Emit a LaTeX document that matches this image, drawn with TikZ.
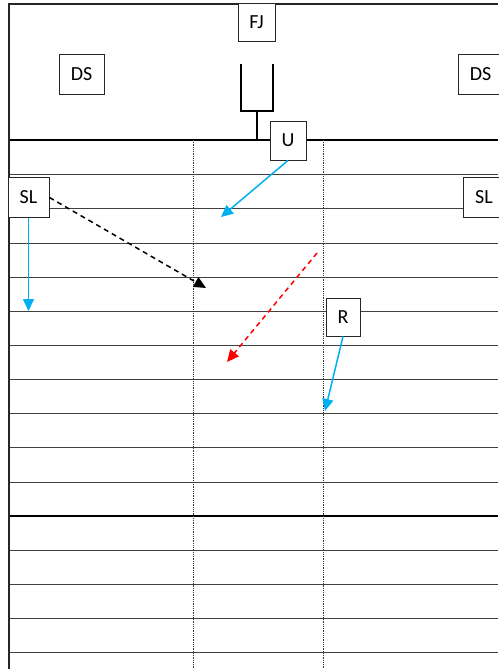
\documentclass[tikz,border=0pt]{standalone}
\usepackage{fontspec}
\setmainfont{Carlito}
\usetikzlibrary{arrows.meta}
\definecolor{skyblue}{RGB}{0,176,240}
\begin{document}
\begin{tikzpicture}[x=1pt,y=-1pt,
  lbl/.style={draw=black!85,line width=0.9pt,fill=white,inner sep=0pt,font=\fontsize{20}{24}\selectfont},
  gridline/.style={black!75,line width=0.9pt},
  heavy/.style={black,line width=2pt},
  dotv/.style={black!80,line width=0.8pt,dash pattern=on 1pt off 0.8pt},
  bluearrow/.style={skyblue,line width=1.5pt,-{Triangle[length=12pt,width=11pt]}},
  blackarrow/.style={black,line width=1.5pt,dash pattern=on 5pt off 4pt,-{Triangle[length=12pt,width=11pt]}},
  redarrow/.style={red,line width=1.5pt,dash pattern=on 5pt off 4pt,-{Triangle[length=12pt,width=11pt]}}]
\useasboundingbox (0,0) rectangle (498,671);
\fill[white] (0,0) rectangle (498,671);
% top frame
\draw[black!85,line width=1.3pt] (9,4) -- (498,4);
% horizontal grid lines
\foreach \y in {174,208,243,277,311,345,379,413,447,482,550,584,618,652}
  \draw[gridline] (9,\y) -- (498,\y);
\draw[heavy] (9,516) -- (498,516);
\draw[heavy] (9,140) -- (498,140);
% dotted vertical dividers
\draw[dotv] (193,140) -- (193,668);
\draw[dotv] (323,140) -- (323,668);
% left wall
\draw[black!85,line width=2pt] (9,3) -- (9,669);
% U-shaped holder
\draw[black,line width=1.5pt] (241,64) -- (241,111) -- (273,111) -- (273,64);
\draw[black,line width=1.5pt] (257,111) -- (257,140);
% labels
\node[lbl,minimum width=37pt,minimum height=38pt] (fj) at (256.5,22) {FJ};
\node[lbl,minimum width=45pt,minimum height=40pt] (dsl) at (81.5,74) {DS};
\node[lbl,minimum width=45pt,minimum height=40pt] (dsr) at (480.5,74) {DS};
\node[lbl,minimum width=36pt,minimum height=39pt] (u) at (288,140.5) {U};
\node[lbl,minimum width=41pt,minimum height=40pt] (sll) at (28.5,197.5) {SL};
\node[lbl,minimum width=41pt,minimum height=40pt] (slr) at (484,197) {SL};
\node[lbl,minimum width=34pt,minimum height=38pt] (r) at (343,317) {R};
% arrow ends
\coordinate (slltip) at (28.5,311);
\coordinate (blacktip) at (206,288);
\coordinate (utip) at (221,217);
\coordinate (redstart) at (317,253);
\coordinate (redtip) at (227,362);
\coordinate (rtip) at (325,411);
% arrows
\draw[bluearrow] (sll.south) -- (slltip);
\draw[blackarrow] (sll.east) -- (blacktip);
\draw[bluearrow] (u.south) -- (utip);
\draw[redarrow] (redstart) -- (redtip);
\draw[bluearrow] (r.south) -- (rtip);
\end{tikzpicture}
\end{document}
